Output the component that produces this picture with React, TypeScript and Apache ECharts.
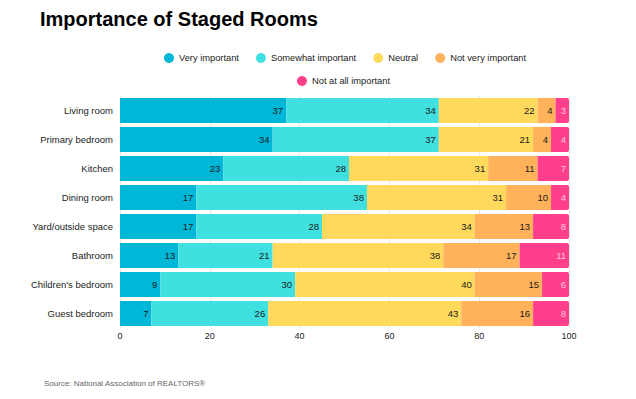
import React, { useEffect, useRef } from "react";
import * as echarts from "echarts";

const categories = [
  "Living room",
  "Primary bedroom",
  "Kitchen",
  "Dining room",
  "Yard/outside space",
  "Bathroom",
  "Children's bedroom",
  "Guest bedroom",
];
const veryImportant = [37, 34, 23, 17, 17, 13, 9, 7];
const somewhatImportant = [34, 37, 28, 38, 28, 21, 30, 26];
const neutral = [22, 21, 31, 31, 34, 38, 40, 43];
const notVeryImportant = [4, 4, 11, 10, 13, 17, 15, 16];
const notAtAllImportant = [3, 4, 7, 4, 8, 11, 6, 8];
const xTicks = [0, 20, 40, 60, 80, 100];

const seriesDefs = [
  { name: "Very important", data: veryImportant, color: "#00b7d8", label: "#1a1a1a" },
  { name: "Somewhat important", data: somewhatImportant, color: "#40dfe0", label: "#1a1a1a" },
  { name: "Neutral", data: neutral, color: "#ffd95c", label: "#1a1a1a" },
  { name: "Not very important", data: notVeryImportant, color: "#ffb25a", label: "#1a1a1a" },
  { name: "Not at all important", data: notAtAllImportant, color: "#ff3f8b", label: "#ffc9dc" },
];

const FONT = "'Liberation Sans', Arial, sans-serif";

export default function App() {
  const ref = useRef<HTMLDivElement>(null);
  useEffect(() => {
    if (!ref.current) return;
    const chart = echarts.init(ref.current, undefined, { renderer: "svg" });
    const legendCommon = {
      icon: "circle",
      itemWidth: 10,
      itemHeight: 10,
      itemGap: 17,
      padding: 0,
      textStyle: { fontFamily: FONT, fontSize: 9.3, color: "#222" },
    };
    chart.setOption({
      animation: false,
      backgroundColor: "#fff",
      textStyle: { fontFamily: FONT },
      title: [
        {
          text: "Importance of Staged Rooms",
          left: 40,
          top: 9,
          padding: 0,
          textStyle: { fontFamily: FONT, fontSize: 20, fontWeight: "bold", color: "#000" },
        },
        {
          text: "Source: National Association of REALTORS®",
          left: 44,
          top: 379,
          padding: 0,
          textStyle: { fontFamily: FONT, fontSize: 8, fontWeight: "normal", color: "#666" },
        },
      ],
      legend: [
        {
          ...legendCommon,
          left: 164,
          top: 53,
          data: seriesDefs.slice(0, 4).map((s) => s.name),
        },
        {
          ...legendCommon,
          left: 297,
          top: 76,
          data: seriesDefs.slice(4).map((s) => s.name),
        },
      ],
      grid: { left: 120, right: 67, top: 96, bottom: 71, containLabel: false },
      xAxis: {
        type: "value",
        min: 0,
        max: 100,
        interval: 20,
        axisLine: { show: false },
        axisTick: { show: false },
        splitLine: { show: true, lineStyle: { color: "#e6e6e6", width: 1 } },
        axisLabel: {
          fontFamily: FONT,
          fontSize: 9,
          color: "#222",
          margin: 3,
          formatter: (v: number) => (xTicks.includes(v) ? String(v) : ""),
        },
      },
      yAxis: {
        type: "category",
        data: categories,
        inverse: true,
        axisLine: { show: false },
        axisTick: { show: false },
        splitLine: { show: false },
        axisLabel: { fontFamily: FONT, fontSize: 9.5, color: "#222", margin: 7 },
      },
      series: seriesDefs.map((s, i) => ({
        name: s.name,
        type: "bar",
        stack: "total",
        data: s.data,
        barCategoryGap: "13%",
        itemStyle: {
          color: s.color,
          borderRadius: i === seriesDefs.length - 1 ? [0, 2, 2, 0] : 0,
        },
        label: {
          show: true,
          position: "insideRight",
          distance: 3,
          fontFamily: FONT,
          fontSize: 9.5,
          color: s.label,
        },
      })),
    });
    return () => chart.dispose();
  }, []);
  return <div ref={ref} style={{ width: 636, height: 399, position: "absolute", left: 0, top: 0 }} />;
}
